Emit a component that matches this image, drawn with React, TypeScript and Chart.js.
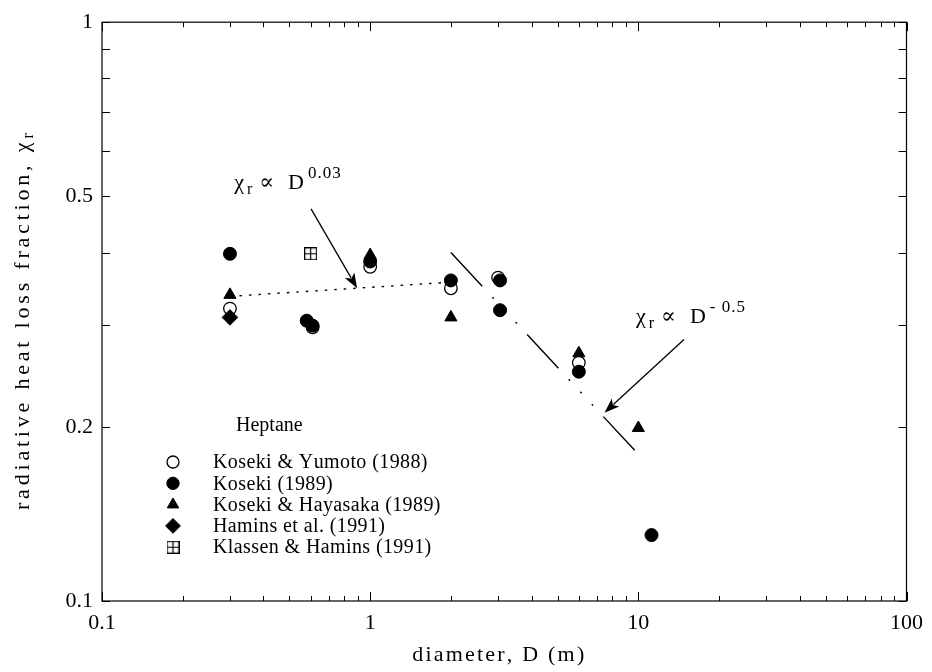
import React, { useEffect, useRef } from 'react';
import { Chart, registerables } from 'chart.js';
import { drawPoint } from 'chart.js/helpers';

Chart.register(...registerables);

// ---------- data ----------
const yumotoD = [0.3, 0.61, 1.0, 2.0, 3.0, 6.0];
const yumotoChi = [0.32, 0.297, 0.378, 0.347, 0.362, 0.258];

const koseki89D = [0.3, 0.58, 0.61, 1.0, 2.0, 3.05, 3.05, 6.0, 11.2];
const koseki89Chi = [0.398, 0.305, 0.299, 0.386, 0.358, 0.358, 0.318, 0.249, 0.13];

const hayasakaD = [0.3, 1.0, 2.0, 6.0, 10.0];
const hayasakaChi = [0.338, 0.396, 0.309, 0.268, 0.199];

const haminsD = [0.3];
const haminsChi = [0.309];

const klassenD = [0.6];
const klassenChi = [0.398];

// correlation lines
const fitSmallD = [0.3, 1.9];
const fitSmallChi = [0.336, 0.355];
const fitLargeD = [2.0, 10.5];
const fitLargeChi = [0.4, 0.175];

// annotation arrows (data coordinates): tail -> tip
const arrowTailD = [0.602, 14.8];
const arrowTailChi = [0.476, 0.283];
const arrowTipD = [0.894, 7.48];
const arrowTipChi = [0.347, 0.2115];

// annotation labels
const noteD = [0.311, 9.8];
const noteChi = [0.514, 0.302];
const noteExp = ['0.03', '- 0.5'];

// axes
const xMajorTicks = [0.1, 1, 10, 100];
const xMajorLabels = ['0.1', '1', '10', '100'];
const xMinorTicks = [0.2, 0.3, 0.4, 0.5, 0.6, 0.7, 0.8, 0.9, 2, 3, 4, 5, 6, 7, 8, 9, 20, 30, 40, 50, 60, 70, 80, 90];
const yMajorTicks = [0.1, 0.2, 0.5, 1];
const yMajorLabels = ['0.1', '0.2', '0.5', '1'];
const yMinorTicks = [0.3, 0.4, 0.6, 0.7, 0.8, 0.9];

const legendTitle = 'Heptane';
const legendLabels = [
  'Koseki & Yumoto (1988)',
  'Koseki (1989)',
  'Koseki & Hayasaka (1989)',
  'Hamins et al. (1991)',
  'Klassen & Hamins (1991)',
];

const xTitle = 'diameter, D (m)';
const yTitle = 'radiative heat loss fraction, χ';
const yTitleSub = 'r';

const SERIF = '"Liberation Serif", "Times New Roman", "DejaVu Serif", serif';

function makeBoxPlus(): HTMLCanvasElement {
  const c = document.createElement('canvas');
  c.width = 13;
  c.height = 13;
  const g = c.getContext('2d')!;
  g.strokeStyle = '#000';
  g.lineWidth = 1.2;
  g.strokeRect(0.6, 0.6, 11.8, 11.8);
  g.beginPath();
  g.moveTo(6.5, 0.6);
  g.lineTo(6.5, 12.4);
  g.moveTo(0.6, 6.5);
  g.lineTo(12.4, 6.5);
  g.stroke();
  return c;
}

function spacedWidth(ctx: CanvasRenderingContext2D, text: string, sp: number) {
  let w = 0;
  for (const ch of text) w += ctx.measureText(ch).width + sp;
  return w - sp;
}

function drawSpaced(ctx: CanvasRenderingContext2D, text: string, x: number, y: number, sp: number) {
  let cx = x;
  for (const ch of text) {
    ctx.fillText(ch, cx, y);
    cx += ctx.measureText(ch).width + sp;
  }
  return cx - sp;
}

export default function App() {
  const ref = useRef<HTMLCanvasElement | null>(null);

  useEffect(() => {
    const canvas = ref.current;
    if (!canvas) return;
    const boxPlus = makeBoxPlus();

    const markerStyles: any[] = [
      { pointStyle: 'circle', radius: 6.3, fill: '#fff', bw: 1.3 },
      { pointStyle: 'circle', radius: 6.5, fill: '#000', bw: 1 },
      { pointStyle: 'triangle', radius: 7, fill: '#000', bw: 1 },
      { pointStyle: 'rectRot', radius: 7.8, fill: '#000', bw: 1 },
      { pointStyle: boxPlus, radius: 6.5, fill: '#fff', bw: 0 },
    ];
    const seriesD = [yumotoD, koseki89D, hayasakaD, haminsD, klassenD];
    const seriesChi = [yumotoChi, koseki89Chi, hayasakaChi, haminsChi, klassenChi];
    const orders = [10, 5, 4, 3, 2];

    const scatterSets = legendLabels.map((label, k) => ({
      type: 'scatter' as const,
      label,
      data: seriesD[k].map((d, i) => ({ x: d, y: seriesChi[k][i] })),
      pointStyle: markerStyles[k].pointStyle,
      pointRadius: markerStyles[k].radius,
      pointBackgroundColor: markerStyles[k].fill,
      pointBorderColor: '#000',
      pointBorderWidth: markerStyles[k].bw,
      showLine: false,
      order: orders[k],
    }));

    const lineSets = [
      {
        type: 'line' as const,
        label: 'fit small',
        data: fitSmallD.map((d, i) => ({ x: d, y: fitSmallChi[i] })),
        borderColor: '#000',
        borderWidth: 1.4,
        borderDash: [2.5, 7],
        pointRadius: 0,
        fill: false,
        order: 20,
      },
      {
        type: 'line' as const,
        label: 'fit large',
        data: fitLargeD.map((d, i) => ({ x: d, y: fitLargeChi[i] })),
        borderColor: '#000',
        borderWidth: 1.4,
        borderDash: [46, 15, 2, 15, 2, 15, 2, 15],
        pointRadius: 0,
        fill: false,
        order: 20,
      },
    ];

    const overlay = {
      id: 'overlay',
      afterDraw(chart: any) {
        const ctx: CanvasRenderingContext2D = chart.ctx;
        const xs = chart.scales.x;
        const ys = chart.scales.y;
        const a = chart.chartArea;
        ctx.save();
        ctx.strokeStyle = '#000';
        ctx.fillStyle = '#000';
        ctx.lineWidth = 1.2;
        // frame
        ctx.strokeRect(a.left, a.top, a.right - a.left, a.bottom - a.top);
        // ticks
        const tick = (v: number, len: number, axis: 'x' | 'y') => {
          ctx.beginPath();
          if (axis === 'x') {
            const px = Math.round(xs.getPixelForValue(v)) + 0.5;
            ctx.moveTo(px, a.bottom);
            ctx.lineTo(px, a.bottom - len);
            ctx.moveTo(px, a.top);
            ctx.lineTo(px, a.top + len);
          } else {
            const py = Math.round(ys.getPixelForValue(v)) + 0.5;
            ctx.moveTo(a.left, py);
            ctx.lineTo(a.left + len, py);
            ctx.moveTo(a.right, py);
            ctx.lineTo(a.right - len, py);
          }
          ctx.stroke();
        };
        ctx.lineWidth = 1;
        xMajorTicks.forEach((v) => tick(v, 9, 'x'));
        xMinorTicks.forEach((v) => tick(v, 5, 'x'));
        yMajorTicks.forEach((v) => tick(v, 8, 'y'));
        yMinorTicks.forEach((v) => tick(v, 8, 'y'));

        // y title
        ctx.save();
        ctx.translate(23, (a.top + a.bottom) / 2 + 10);
        ctx.rotate(-Math.PI / 2);
        ctx.textBaseline = 'middle';
        ctx.textAlign = 'left';
        const ySp = 3.8;
        ctx.font = `22px ${SERIF}`;
        const w1 = spacedWidth(ctx, yTitle, ySp);
        ctx.font = `16px ${SERIF}`;
        const w2 = ctx.measureText(yTitleSub).width;
        const start = -(w1 + w2 + 4) / 2;
        ctx.font = `22px ${SERIF}`;
        drawSpaced(ctx, yTitle, start, 0, ySp);
        ctx.font = `16px ${SERIF}`;
        ctx.fillText(yTitleSub, start + w1 + 4, 6);
        ctx.restore();

        // x title
        ctx.font = `22px ${SERIF}`;
        ctx.textBaseline = 'middle';
        ctx.textAlign = 'left';
        const xSp = 2.2;
        const xw = spacedWidth(ctx, xTitle, xSp);
        drawSpaced(ctx, xTitle, (a.left + a.right) / 2 - 6 - xw / 2, 655, xSp);

        // correlation notes
        ctx.textBaseline = 'alphabetic';
        noteD.forEach((d, i) => {
          let x = xs.getPixelForValue(d);
          const y = ys.getPixelForValue(noteChi[i]);
          ctx.font = `22px ${SERIF}`;
          ctx.fillText('χ', x, y);
          x += ctx.measureText('χ').width + 3;
          ctx.font = `16px ${SERIF}`;
          ctx.fillText('r', x, y + 5);
          x += ctx.measureText('r').width + 7;
          ctx.font = `22px ${SERIF}`;
          ctx.fillText('∝', x, y);
          x += ctx.measureText('∝').width + 14;
          ctx.fillText('D', x, y);
          x += ctx.measureText('D').width + 4;
          ctx.font = `17px ${SERIF}`;
          drawSpaced(ctx, noteExp[i], x, y - 11, 1);
        });

        // arrows
        arrowTailD.forEach((d, i) => {
          const x0 = xs.getPixelForValue(d);
          const y0 = ys.getPixelForValue(arrowTailChi[i]);
          const x1 = xs.getPixelForValue(arrowTipD[i]);
          const y1 = ys.getPixelForValue(arrowTipChi[i]);
          const ang = Math.atan2(y1 - y0, x1 - x0);
          const hl = 15;
          const hw = 5.5;
          ctx.lineWidth = 1.3;
          ctx.beginPath();
          ctx.moveTo(x0, y0);
          ctx.lineTo(x1 - Math.cos(ang) * hl * 0.8, y1 - Math.sin(ang) * hl * 0.8);
          ctx.stroke();
          ctx.beginPath();
          ctx.moveTo(x1, y1);
          ctx.lineTo(
            x1 - Math.cos(ang) * hl - Math.sin(ang) * hw,
            y1 - Math.sin(ang) * hl + Math.cos(ang) * hw
          );
          ctx.lineTo(x1 - Math.cos(ang) * hl * 0.75, y1 - Math.sin(ang) * hl * 0.75);
          ctx.lineTo(
            x1 - Math.cos(ang) * hl + Math.sin(ang) * hw,
            y1 - Math.sin(ang) * hl - Math.cos(ang) * hw
          );
          ctx.closePath();
          ctx.fill();
        });

        // legend
        const lx = 173;
        const tx = 213;
        const ly0 = 462;
        const step = 21.3;
        ctx.font = `20px ${SERIF}`;
        ctx.textBaseline = 'middle';
        ctx.fillText(legendTitle, 236, 426);
        legendLabels.forEach((lab, k) => {
          const y = ly0 + k * step;
          const ms = markerStyles[k];
          ctx.fillStyle = ms.fill;
          ctx.strokeStyle = '#000';
          ctx.lineWidth = ms.bw;
          drawPoint(ctx, { pointStyle: ms.pointStyle, radius: ms.radius * 0.95, borderWidth: ms.bw, rotation: 0 } as any, lx, y);
          ctx.fillStyle = '#000';
          drawSpaced(ctx, lab, tx, y + 1, 0.4);
        });
        ctx.restore();
      },
    };

    const chart = new Chart(canvas, {
      type: 'scatter',
      data: { datasets: [...scatterSets, ...lineSets] as any },
      options: {
        animation: false,
        responsive: false,
        layout: { padding: { left: 0, top: 19, right: 16, bottom: 0 } },
        plugins: { legend: { display: false }, tooltip: { enabled: false } },
        scales: {
          x: {
            type: 'logarithmic',
            min: 0.1,
            max: 100,
            afterBuildTicks: (s: any) => {
              s.ticks = xMajorTicks.map((v) => ({ value: v }));
            },
            afterFit: (s: any) => {
              s.height = 71;
            },
            grid: { display: false, drawTicks: false },
            border: { display: false },
            ticks: {
              autoSkip: false,
              maxRotation: 0,
              padding: 9,
              color: '#000',
              font: { family: SERIF, size: 22 },
              callback: (_v: any, i: number) => xMajorLabels[i],
            },
            title: { display: false },
          },
          y: {
            type: 'logarithmic',
            min: 0.1,
            max: 1,
            afterBuildTicks: (s: any) => {
              s.ticks = yMajorTicks.map((v) => ({ value: v }));
            },
            afterFit: (s: any) => {
              s.width = 102;
            },
            grid: { display: false, drawTicks: false },
            border: { display: false },
            ticks: {
              autoSkip: false,
              padding: 9,
              color: '#000',
              font: { family: SERIF, size: 22 },
              callback: (_v: any, i: number) => yMajorLabels[i],
            },
          },
        },
      },
      plugins: [overlay],
    } as any);

    return () => chart.destroy();
  }, []);

  return (
    <div style={{ position: 'fixed', left: 0, top: 0, width: 932, height: 672, background: '#fff' }}>
      <canvas ref={ref} width={932} height={672} style={{ display: 'block' }} />
    </div>
  );
}
